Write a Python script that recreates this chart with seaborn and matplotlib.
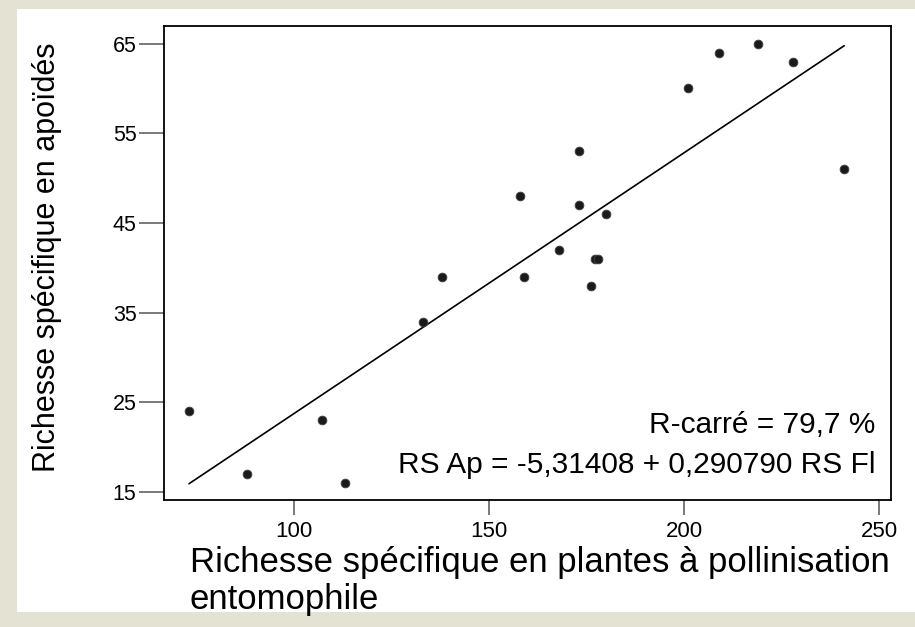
import matplotlib
matplotlib.use("Agg")
import matplotlib.pyplot as plt
import seaborn as sns
import numpy as np
import pandas as pd
from matplotlib.patches import Rectangle

# Data
rs_fl = [73, 88, 107, 113, 133, 138, 158, 159, 168, 173, 173, 176, 177, 178, 180, 201, 209, 219, 228, 241]
rs_ap = [24, 17, 23, 16, 34, 39, 48, 39, 42, 53, 47, 38, 41, 41, 46, 60, 64, 65, 63, 51]
intercept = -5.31408
slope = 0.290790
r2_text = "R-carré = 79,7 %"
eq_text = "RS Ap = -5,31408 + 0,290790 RS Fl"
x_ticks = [100, 150, 200, 250]
y_ticks = [15, 25, 35, 45, 55, 65]

sns.set_theme(style="white")
plt.rcParams["font.family"] = ["Liberation Sans", "DejaVu Sans"]

df = pd.DataFrame({"x": rs_fl, "y": rs_ap})
xline = np.array([min(rs_fl), max(rs_fl)])
line_df = pd.DataFrame({"x": xline, "y": intercept + slope * xline})

fig = plt.figure(figsize=(9.15, 6.27), dpi=100)
fig.patch.set_facecolor("#e4e2d2")
bg = Rectangle((17/915, 15/627), 1 - 17/915, 1 - 15/627 - 9/627,
               transform=fig.transFigure, facecolor="white",
               edgecolor="none", zorder=-10)
fig.patches.append(bg)

ax = fig.add_axes([164.3/915, 1 - 500/627, (891 - 164.3)/915, (500 - 25.7)/627])
ax.set_zorder(1)
ax.set_facecolor("white")

sns.lineplot(data=line_df, x="x", y="y", ax=ax, color="black", linewidth=1.2)
sns.scatterplot(data=df, x="x", y="y", ax=ax, color="#1a1a1a", s=40,
                edgecolor="#444444", linewidth=0.6, zorder=3)

ax.set_xlim(66.67, 253.0)
ax.set_ylim(14.1, 67.0)
ax.set_xticks(x_ticks)
ax.set_yticks(y_ticks)
ax.set_xticklabels([str(v) for v in x_ticks])
ax.set_yticklabels([str(v) for v in y_ticks])

for s in ax.spines.values():
    s.set_color("black")
    s.set_linewidth(1.3)
    s.set_visible(True)

ax.tick_params(axis="y", direction="out", length=18, width=1.1, color="#555555",
               labelsize=15.5, pad=2, left=True, labelcolor="black")
ax.tick_params(axis="x", direction="out", length=11, width=1.1, color="#555555",
               labelsize=16, pad=4, bottom=True, labelcolor="black")

ax.set_ylabel("Richesse spécifique en apoïdés", fontsize=22, color="black")
ax.yaxis.set_label_coords(-0.141, 0.511)
ax.set_xlabel("Richesse spécifique en plantes à pollinisation\nentomophile",
              fontsize=25, color="black", ha="left", va="top", linespacing=1.16)
ax.xaxis.set_label_coords(0.035, -0.097)

ax.text(0.978, 0.158, r2_text, transform=ax.transAxes, ha="right", va="center",
        fontsize=21.5, color="black")
ax.text(0.978, 0.074, eq_text, transform=ax.transAxes, ha="right", va="center",
        fontsize=21.5, color="black")

fig.savefig("out.png", dpi=100, facecolor=fig.get_facecolor())
